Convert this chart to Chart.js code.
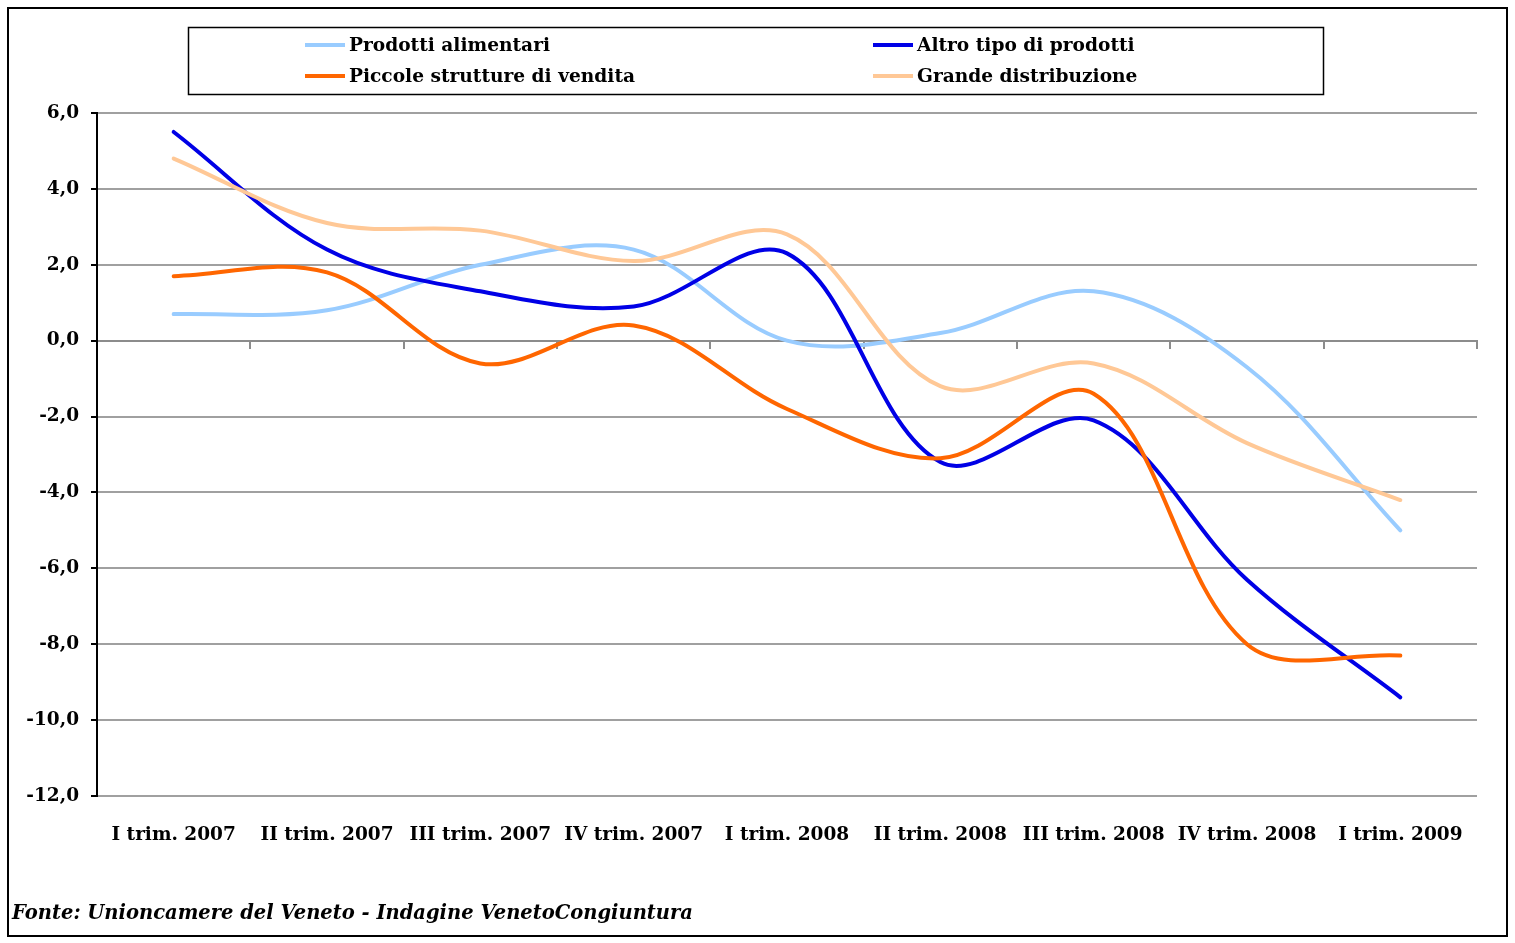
<!DOCTYPE html>
<html>
<head>
<meta charset="utf-8">
<script src="https://cdn.jsdelivr.net/npm/chart.js@4/dist/chart.umd.min.js"></script>
<style>
  html, body { margin: 0; padding: 0; background: #fff; }
  #wrap { width: 1515px; height: 943px; position: relative; }
</style>
</head>
<body>
<div id="wrap"><canvas id="c" width="1515" height="943"></canvas></div>
<script>
const categories = ['I trim. 2007', 'II trim. 2007', 'III trim. 2007', 'IV trim. 2007',
  'I trim. 2008', 'II trim. 2008', 'III trim. 2008', 'IV trim. 2008', 'I trim. 2009'];
const prodottiAlimentari = [0.7, 0.8, 2.0, 2.4, 0.0, 0.2, 1.3, -0.7, -5.0];
const altroTipoProdotti = [5.5, 2.4, 1.3, 0.9, 2.3, -3.2, -2.1, -6.3, -9.4];
const piccoleStrutture = [1.7, 1.8, -0.6, 0.4, -1.8, -3.1, -1.4, -8.0, -8.3];
const grandeDistribuzione = [4.8, 3.1, 2.9, 2.1, 2.8, -1.2, -0.6, -2.7, -4.2];
const seriesNames = ['Prodotti alimentari', 'Altro tipo di prodotti', 'Piccole strutture di vendita', 'Grande distribuzione'];
const yMin = -12, yMax = 6, yStep = 2;
const sourceNote = 'Fonte: Unioncamere del Veneto - Indagine VenetoCongiuntura';

const FONT = "'DejaVu Serif', 'Liberation Serif', serif";

const frameAndLegend = {
  id: 'frameAndLegend',
  afterDraw(chart) {
    const ctx = chart.ctx;
    ctx.save();
    // outer frame
    ctx.strokeStyle = '#000';
    ctx.lineWidth = 2;
    ctx.strokeRect(8, 8, 1499, 928);
    // legend box
    ctx.lineWidth = 1.5;
    ctx.strokeRect(188.5, 27.5, 1135, 67);
    const slots = [[305, 45], [873, 45], [305, 76], [873, 76]];
    ctx.font = 'bold 18.6px ' + FONT;
    ctx.textBaseline = 'middle';
    ctx.textAlign = 'left';
    chart.data.datasets.forEach((ds, i) => {
      const [x, y] = slots[i];
      ctx.strokeStyle = ds.borderColor;
      ctx.lineWidth = 4;
      ctx.beginPath();
      ctx.moveTo(x, y);
      ctx.lineTo(x + 40, y);
      ctx.stroke();
      ctx.fillStyle = '#000';
      ctx.fillText(ds.label, x + 44, y + 1);
    });
    // source note
    ctx.font = 'italic bold 19.5px ' + FONT;
    ctx.textBaseline = 'middle';
    ctx.fillText(sourceNote, 12, 914);
    ctx.restore();
  }
};

new Chart(document.getElementById('c'), {
  type: 'line',
  data: {
    labels: categories,
    datasets: [
      { label: seriesNames[0], data: prodottiAlimentari, borderColor: '#99CCFF', order: 4 },
      { label: seriesNames[1], data: altroTipoProdotti, borderColor: '#0000E6', order: 3 },
      { label: seriesNames[2], data: piccoleStrutture, borderColor: '#FF6600', order: 2 },
      { label: seriesNames[3], data: grandeDistribuzione, borderColor: '#FFC896', order: 1 }
    ]
  },
  options: {
    responsive: false,
    animation: false,
    devicePixelRatio: 1,
    layout: { padding: { left: 0, top: 113, right: 38, bottom: 0 } },
    elements: {
      line: { borderWidth: 4, tension: 0.35, fill: false, borderCapStyle: 'round', borderJoinStyle: 'round' },
      point: { radius: 0, hoverRadius: 0 }
    },
    plugins: { legend: { display: false }, tooltip: { enabled: false } },
    scales: {
      x: {
        type: 'category',
        position: 'bottom',
        offset: true,
        grid: { display: false, drawTicks: false },
        border: { display: false },
        ticks: { color: '#000', font: { family: FONT, size: 18.5, weight: 'bold' }, padding: 28, maxRotation: 0, autoSkip: false },
        afterFit(scale) { scale.height = 147; }
      },
      x0: {
        type: 'category',
        position: { y: 0 },
        offset: true,
        grid: { display: true, offset: true, drawOnChartArea: false, drawTicks: true, tickLength: 7, color: '#8c8c8c', lineWidth: 2 },
        border: { display: true, color: '#8c8c8c', width: 2 },
        ticks: { display: false }
      },
      y: {
        min: yMin,
        max: yMax,
        position: 'left',
        ticks: {
          stepSize: yStep,
          color: '#000',
          padding: 12,
          font: { family: FONT, size: 18.5, weight: 'bold' },
          callback: v => v.toFixed(1).replace('.', ',')
        },
        grid: { color: '#a0a0a0', lineWidth: 2, tickLength: 6, tickColor: '#000', tickWidth: 2 },
        border: { display: true, color: '#000', width: 2 },
        afterFit(scale) { scale.width = 97; }
      }
    }
  },
  plugins: [frameAndLegend]
});
</script>
</body>
</html>
